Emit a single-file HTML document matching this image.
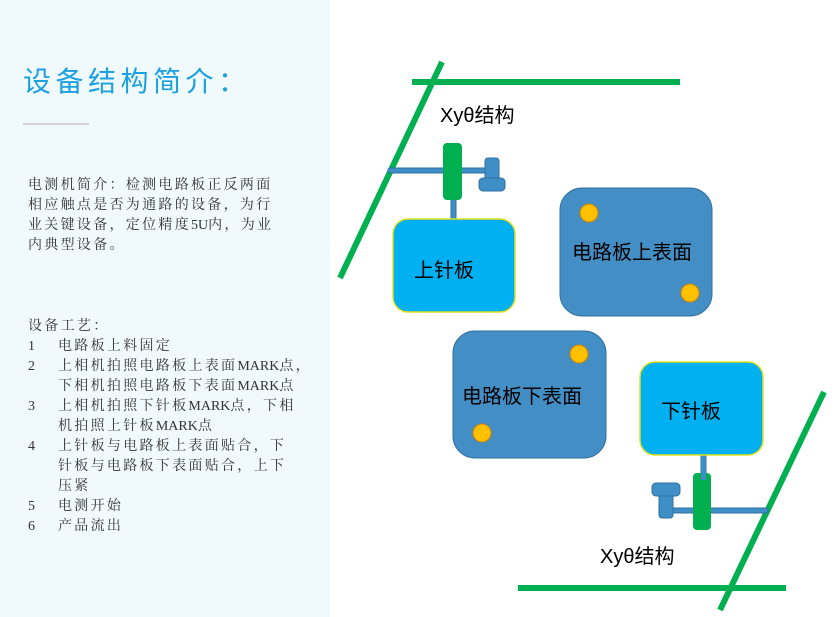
<!DOCTYPE html>
<html><head><meta charset="utf-8"><style>
body{margin:0;width:840px;height:617px;overflow:hidden;background:#fff;position:relative;font-family:"Liberation Serif","Noto Serif CJK SC",serif}
#left{position:absolute;left:0;top:0;width:330px;height:617px;background:#f0fafd}
.t{position:absolute;left:23px;top:60px;font-size:28px;letter-spacing:4.5px;color:#1da0e0;font-family:"Liberation Sans","Noto Sans CJK SC",sans-serif;white-space:nowrap}
.hr{position:absolute;left:23px;top:123px;width:66px;height:2px;background:#d4d4d4}
.p{position:absolute;left:28px;font-size:14px;line-height:20px;color:#333;white-space:nowrap;letter-spacing:2.3px}
.n{display:inline-block;width:30px;letter-spacing:0}
.i{padding-left:30px}
.m{letter-spacing:0}
svg{position:absolute;left:0;top:0}
</style></head><body>
<div id="left"></div>
<div class="t">设备结构简介：</div>
<div class="hr"></div>
<div class="p" style="top:176px">电测机简介：检测电路板正反两面<br>相应触点是否为通路的设备，为行<br>业关键设备，定位精度<span class="m">5U</span>内，为业<br>内典型设备。</div>
<div class="p" style="top:317px">设备工艺：<br><span class="n">1</span>电路板上料固定<br><span class="n">2</span>上相机拍照电路板上表面<span class="m">MARK</span>点，<br><span class="i">下相机拍照电路板下表面<span class="m">MARK</span>点</span><br><span class="n">3</span>上相机拍照下针板<span class="m">MARK</span>点，下相<br><span class="i">机拍照上针板<span class="m">MARK</span>点</span><br><span class="n">4</span>上针板与电路板上表面贴合，下<br><span class="i">针板与电路板下表面贴合，上下</span><br><span class="i">压紧</span><br><span class="n">5</span>电测开始<br><span class="n">6</span>产品流出</div>
<svg width="840" height="617" font-family="Liberation Sans,Noto Sans CJK SC,sans-serif">
<g stroke="#00b050" stroke-width="6">
<line x1="442" y1="62" x2="340" y2="278"/><line x1="412" y1="82" x2="680" y2="82"/>
<line x1="824" y1="392" x2="720" y2="610"/><line x1="518" y1="588" x2="786" y2="588"/>
</g>
<g fill="#3f8fc7" stroke="#2f6fa0" stroke-width="1">
<rect x="388" y="168" width="110" height="5" rx="2"/>
<rect x="451" y="190" width="5" height="30"/>
<rect x="485" y="158" width="14" height="26" rx="3"/>
<rect x="479" y="178" width="26" height="13" rx="4"/>
<rect x="701" y="455" width="5" height="30"/>
<rect x="672" y="508" width="96" height="5" rx="2"/>
<rect x="659" y="494" width="14" height="24" rx="3"/>
<rect x="652" y="483" width="28" height="13" rx="4"/>
</g>
<rect x="443" y="143" width="19" height="57" rx="4" fill="#00b050"/>
<rect x="693" y="473" width="18" height="57" rx="4" fill="#00b050"/>
<rect x="701" y="455" width="5" height="25" fill="#3f8fc7"/>
<rect x="393" y="219" width="122" height="93" rx="15" fill="#00b0f0" stroke="#e0e020" stroke-width="1.5"/>
<rect x="640" y="362" width="123" height="93" rx="15" fill="#00b0f0" stroke="#e0e020" stroke-width="1.5"/>
<rect x="560" y="188" width="152" height="128" rx="22" fill="#438fc5" stroke="#2f6fa0"/>
<rect x="453" y="331" width="153" height="127" rx="22" fill="#438fc5" stroke="#2f6fa0"/>
<g fill="#ffc000" stroke="#d08000"><circle cx="589" cy="213" r="9"/><circle cx="690" cy="293" r="9"/><circle cx="579" cy="354" r="9"/><circle cx="482" cy="433" r="9"/></g>
<g font-size="20" fill="#000">
<text x="414" y="277">上针板</text>
<text x="661" y="418">下针板</text>
<text x="572" y="259">电路板上表面</text>
<text x="462" y="403">电路板下表面</text>
<text x="440" y="122">Xyθ结构</text>
<text x="600" y="563">Xyθ结构</text>
</g>
</svg>
</body></html>
